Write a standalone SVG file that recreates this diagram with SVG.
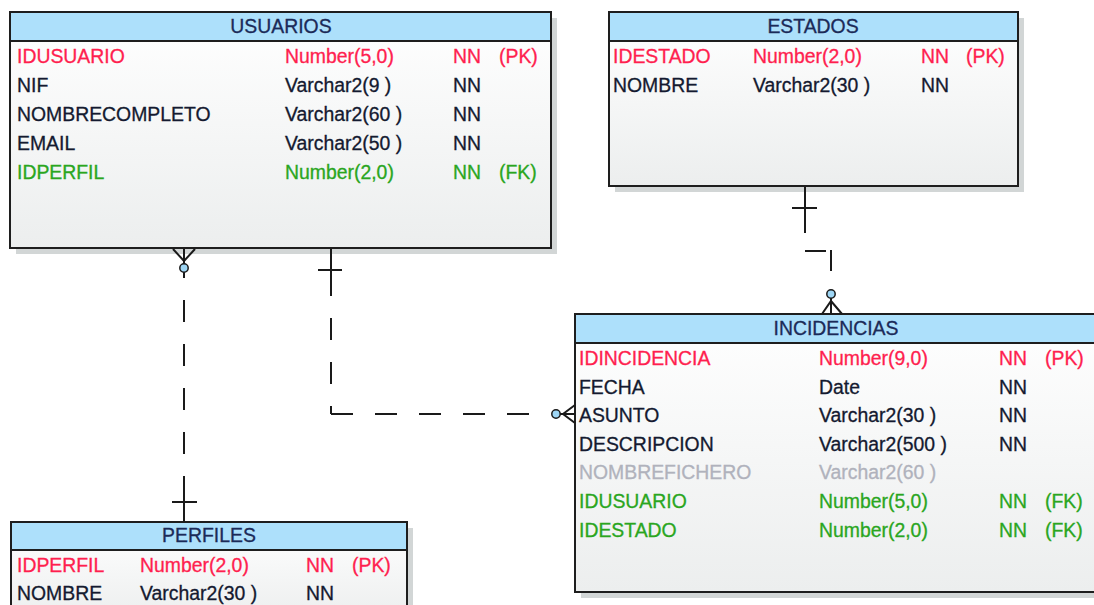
<svg xmlns="http://www.w3.org/2000/svg" width="1094" height="605" viewBox="0 0 1094 605">
<defs>
<linearGradient id="body" x1="0" y1="0" x2="0" y2="1">
<stop offset="0" stop-color="#ffffff"/>
<stop offset="1" stop-color="#eceeee"/>
</linearGradient>
<style>
text{font-family:"Liberation Sans",Arial,sans-serif;font-size:19.4px;fill:#141a30;stroke:#141a30;stroke-width:0.3}
.hd{fill:#1b2a58;stroke:#1b2a58;text-anchor:middle}
.pk{fill:#ff1f4f;stroke:#ff1f4f}
.fk{fill:#2aa61e;stroke:#2aa61e}
.op{fill:#b0b2bc;stroke:#b0b2bc}
.shadow{fill:#d2d6d6}
.box{fill:url(#body);stroke:#1e1e1e;stroke-width:2}
.head{fill:#ade0fb;stroke:#1e1e1e;stroke-width:2}
.ln{stroke:#1a1a1a;stroke-width:2;fill:none}
.dash{stroke:#1a1a1a;stroke-width:2;fill:none;stroke-dasharray:22 22}
.opt{fill:#9ed6f5;stroke:#1a1a1a;stroke-width:1.5}
</style>
</defs>
<rect width="1094" height="605" fill="#ffffff"/>

<g id="usuarios">
<rect class="shadow" x="16" y="18" width="541" height="236"/>
<rect class="box" x="10" y="12" width="541" height="236"/>
<rect class="head" x="10" y="12" width="541" height="29"/>
<text class="hd" x="281" y="33">USUARIOS</text>
<text class="pk" x="17" y="63">IDUSUARIO</text><text class="pk" x="285" y="63">Number(5,0)</text><text class="pk" x="453" y="63">NN</text><text class="pk" x="499" y="63">(PK)</text>
<text x="17" y="92">NIF</text><text x="285" y="92">Varchar2(9 )</text><text x="453" y="92">NN</text>
<text x="17" y="121">NOMBRECOMPLETO</text><text x="285" y="121">Varchar2(60 )</text><text x="453" y="121">NN</text>
<text x="17" y="150">EMAIL</text><text x="285" y="150">Varchar2(50 )</text><text x="453" y="150">NN</text>
<text class="fk" x="17" y="179">IDPERFIL</text><text class="fk" x="285" y="179">Number(2,0)</text><text class="fk" x="453" y="179">NN</text><text class="fk" x="499" y="179">(FK)</text>
</g>

<g id="estados">
<rect class="shadow" x="615" y="18" width="409" height="174"/>
<rect class="box" x="609" y="12" width="409" height="174"/>
<rect class="head" x="609" y="12" width="409" height="29"/>
<text class="hd" x="813" y="33">ESTADOS</text>
<text class="pk" x="613" y="63">IDESTADO</text><text class="pk" x="753" y="63">Number(2,0)</text><text class="pk" x="921" y="63">NN</text><text class="pk" x="966" y="63">(PK)</text>
<text x="613" y="92">NOMBRE</text><text x="753" y="92">Varchar2(30 )</text><text x="921" y="92">NN</text>
</g>

<g id="incidencias">
<rect class="shadow" x="581" y="320" width="522" height="278"/>
<rect class="box" x="575" y="314" width="522" height="278"/>
<rect class="head" x="575" y="314" width="522" height="29"/>
<text class="hd" x="836" y="335">INCIDENCIAS</text>
<text class="pk" x="579" y="365">IDINCIDENCIA</text><text class="pk" x="819" y="365">Number(9,0)</text><text class="pk" x="999" y="365">NN</text><text class="pk" x="1045" y="365">(PK)</text>
<text x="579" y="393.5">FECHA</text><text x="819" y="393.5">Date</text><text x="999" y="393.5">NN</text>
<text x="579" y="422">ASUNTO</text><text x="819" y="422">Varchar2(30 )</text><text x="999" y="422">NN</text>
<text x="579" y="450.5">DESCRIPCION</text><text x="819" y="450.5">Varchar2(500 )</text><text x="999" y="450.5">NN</text>
<text class="op" x="579" y="479">NOMBREFICHERO</text><text class="op" x="819" y="479">Varchar2(60 )</text>
<text class="fk" x="579" y="507.5">IDUSUARIO</text><text class="fk" x="819" y="507.5">Number(5,0)</text><text class="fk" x="999" y="507.5">NN</text><text class="fk" x="1045" y="507.5">(FK)</text>
<text class="fk" x="579" y="536.5">IDESTADO</text><text class="fk" x="819" y="536.5">Number(2,0)</text><text class="fk" x="999" y="536.5">NN</text><text class="fk" x="1045" y="536.5">(FK)</text>
</g>

<g id="perfiles">
<rect class="shadow" x="17" y="528" width="396" height="100"/>
<rect class="box" x="11" y="522" width="396" height="100"/>
<rect class="head" x="11" y="522" width="396" height="28"/>
<text class="hd" x="209" y="542">PERFILES</text>
<text class="pk" x="17" y="572">IDPERFIL</text><text class="pk" x="140" y="572">Number(2,0)</text><text class="pk" x="306" y="572">NN</text><text class="pk" x="352" y="572">(PK)</text>
<text x="17" y="600">NOMBRE</text><text x="140" y="600">Varchar2(30 )</text><text x="306" y="600">NN</text>
</g>

<g id="connectors">
<!-- USUARIOS - PERFILES -->
<line class="dash" x1="184" y1="256" x2="184" y2="477"/>
<line class="ln" x1="184" y1="477" x2="184" y2="522"/>
<line class="ln" x1="172" y1="502" x2="197" y2="502"/>
<path class="ln" d="M173 249 L184 261 L195 249 M184 249 V264"/>
<circle class="opt" cx="184" cy="268" r="4.2"/>
<!-- USUARIOS - INCIDENCIAS -->
<line class="ln" x1="331" y1="249" x2="331" y2="296"/>
<line class="ln" x1="318" y1="270" x2="342" y2="270"/>
<line class="dash" x1="331" y1="318" x2="331" y2="414"/>
<line class="dash" x1="331" y1="414" x2="551" y2="414"/>
<path class="ln" d="M575 405 L563 414 L575 423 M560 414 H575"/>
<circle class="opt" cx="556" cy="414" r="4.2"/>
<!-- ESTADOS - INCIDENCIAS -->
<line class="ln" x1="805" y1="187" x2="805" y2="233"/>
<line class="ln" x1="792" y1="208" x2="817" y2="208"/>
<line class="ln" x1="805" y1="251" x2="826" y2="251"/>
<line class="ln" x1="831" y1="250" x2="831" y2="271"/>
<path class="ln" d="M822 314 L831 301 L842 314 M831 298 V314"/>
<circle class="opt" cx="831" cy="294" r="4.2"/>
</g>
</svg>
